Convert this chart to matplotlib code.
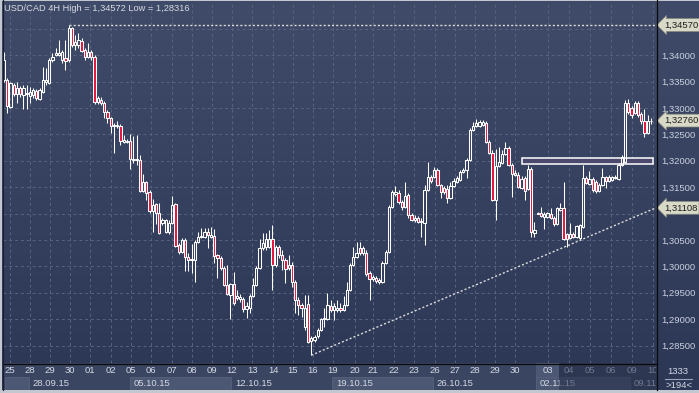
import matplotlib
matplotlib.use("Agg")
import matplotlib.pyplot as plt
import numpy as np
from matplotlib.patches import Rectangle
from matplotlib.lines import Line2D
from matplotlib.ticker import FixedLocator, FuncFormatter
from matplotlib.colors import LinearSegmentedColormap
import matplotlib.transforms as mtrans

plt.rcParams['font.family'] = ['Liberation Sans', 'DejaVu Sans']

# ---------------- data (USD/CAD 4H candles) ----------------
open_ = [
    1.3353, 1.3353, 1.3302, 1.3344, 1.3326, 1.3338, 1.3324, 1.3326, 1.3323, 1.3324,
    1.3332, 1.3317, 1.3330, 1.3349, 1.3347, 1.3391, 1.3400, 1.3400, 1.3391, 1.3395,
    1.3391, 1.3452, 1.3420, 1.3420, 1.3427, 1.3410, 1.3397, 1.3406, 1.3397, 1.3311,
    1.3315, 1.3309, 1.3292, 1.3281, 1.3266, 1.3266, 1.3266, 1.3235, 1.3235, 1.3237,
    1.3201, 1.3201, 1.3201, 1.3143, 1.3160, 1.3141, 1.3105, 1.3118, 1.3101, 1.3082,
    1.3065, 1.3065, 1.3082, 1.3118, 1.3040, 1.3027, 1.3050, 1.3018, 1.3012, 1.3012,
    1.3046, 1.3056, 1.3056, 1.3065, 1.3056, 1.3058, 1.3021, 1.3016, 1.2997, 1.2965,
    1.2946, 1.2966, 1.2940, 1.2938, 1.2938, 1.2919, 1.2922, 1.2944, 1.2965, 1.2997,
    1.3035, 1.3037, 1.3037, 1.3052, 1.3002, 1.3037, 1.3021, 1.3012, 1.2997, 1.3002,
    1.2970, 1.2936, 1.2926, 1.2885, 1.2928, 1.2858, 1.2860, 1.2868, 1.2879, 1.2900,
    1.2900, 1.2924, 1.2917, 1.2917, 1.2922, 1.2917, 1.2926, 1.2955, 1.3002, 1.3018,
    1.3035, 1.3025, 1.3025, 1.2987, 1.2976, 1.2978, 1.2970, 1.2970, 1.3006, 1.3027,
    1.3112, 1.3137, 1.3139, 1.3122, 1.3112, 1.3136, 1.3097, 1.3088, 1.3092, 1.3084,
    1.3082, 1.3145, 1.3169, 1.3169, 1.3182, 1.3154, 1.3149, 1.3147, 1.3130, 1.3152,
    1.3160, 1.3164, 1.3178, 1.3182, 1.3201, 1.3258, 1.3266, 1.3266, 1.3268, 1.3271,
    1.3235, 1.3214, 1.3126, 1.3190, 1.3195, 1.3212, 1.3224, 1.3192, 1.3173, 1.3173,
    1.3149, 1.3167, 1.3147, 1.3184, 1.3063, 1.3100, 1.3101, 1.3094, 1.3094, 1.3099,
    1.3092, 1.3080, 1.3107, 1.3110, 1.3061, 1.3054, 1.3061, 1.3056, 1.3054, 1.3075,
    1.3167, 1.3156, 1.3165, 1.3160, 1.3143, 1.3154, 1.3169, 1.3162, 1.3164, 1.3167,
    1.3165, 1.3192, 1.3197, 1.3309, 1.3300, 1.3290, 1.3309, 1.3288, 1.3275, 1.3252,
    1.3275]
high = [
    1.3406, 1.3357, 1.3349, 1.3347, 1.3349, 1.3342, 1.3344, 1.3344, 1.3340, 1.3338,
    1.3336, 1.3338, 1.3378, 1.3376, 1.3395, 1.3404, 1.3414, 1.3429, 1.3410, 1.3429,
    1.34572, 1.3454, 1.3438, 1.3442, 1.3433, 1.3414, 1.3423, 1.3410, 1.3400, 1.3323,
    1.3321, 1.3313, 1.3296, 1.3283, 1.3271, 1.3275, 1.3269, 1.3248, 1.3241, 1.3250,
    1.3247, 1.3248, 1.3210, 1.3174, 1.3162, 1.3145, 1.3128, 1.3120, 1.3120, 1.3092,
    1.3090, 1.3088, 1.3134, 1.3120, 1.3044, 1.3054, 1.3054, 1.3025, 1.3042, 1.3050,
    1.3065, 1.3073, 1.3073, 1.3073, 1.3075, 1.3071, 1.3023, 1.3020, 1.3001, 1.3002,
    1.2968, 1.2989, 1.2955, 1.2947, 1.2942, 1.2932, 1.2947, 1.2978, 1.3001, 1.3052,
    1.3063, 1.3063, 1.3069, 1.3078, 1.3040, 1.3040, 1.3031, 1.3016, 1.3021, 1.3008,
    1.2974, 1.2942, 1.2930, 1.2946, 1.2946, 1.2868, 1.2870, 1.2883, 1.2902, 1.2922,
    1.2949, 1.2936, 1.2930, 1.2936, 1.2930, 1.2944, 1.2970, 1.3006, 1.3037, 1.3046,
    1.3046, 1.3039, 1.3031, 1.2991, 1.2984, 1.2982, 1.2978, 1.3010, 1.3031, 1.3116,
    1.3145, 1.3152, 1.3145, 1.3126, 1.3160, 1.3139, 1.3101, 1.3097, 1.3096, 1.3092,
    1.3154, 1.3197, 1.3173, 1.3188, 1.3186, 1.3156, 1.3152, 1.3154, 1.3160, 1.3167,
    1.3171, 1.3182, 1.3186, 1.3205, 1.3262, 1.3273, 1.3279, 1.3277, 1.3277, 1.3275,
    1.3239, 1.3220, 1.3222, 1.3226, 1.3220, 1.3235, 1.3228, 1.3195, 1.3182, 1.3178,
    1.3171, 1.3171, 1.3192, 1.3188, 1.3084, 1.3103, 1.3112, 1.3103, 1.3103, 1.3110,
    1.3096, 1.3112, 1.3120, 1.3160, 1.3063, 1.3082, 1.3065, 1.3078, 1.3080, 1.3192,
    1.3171, 1.3180, 1.3169, 1.3164, 1.3158, 1.3186, 1.3171, 1.3173, 1.3171, 1.3173,
    1.3195, 1.3210, 1.3315, 1.3317, 1.3304, 1.3313, 1.3313, 1.3292, 1.3298, 1.3286,
    1.3281]
low = [
    1.3349, 1.3290, 1.3300, 1.3323, 1.3309, 1.3321, 1.3298, 1.3298, 1.3309, 1.3319,
    1.3315, 1.3315, 1.3328, 1.3344, 1.3345, 1.3387, 1.3399, 1.3399, 1.3385, 1.3372,
    1.3387, 1.3416, 1.3410, 1.3414, 1.3406, 1.3391, 1.3395, 1.3391, 1.3307, 1.3307,
    1.3306, 1.3281, 1.3271, 1.3252, 1.3214, 1.3262, 1.3230, 1.3233, 1.3233, 1.3184,
    1.3195, 1.3192, 1.3141, 1.3141, 1.3126, 1.3101, 1.3065, 1.3080, 1.3061, 1.3078,
    1.3063, 1.3061, 1.3080, 1.3037, 1.3023, 1.3025, 1.2991, 1.2991, 1.2987, 1.2970,
    1.3044, 1.3054, 1.3054, 1.3035, 1.3054, 1.3006, 1.2978, 1.2993, 1.2963, 1.2946,
    1.2900, 1.2926, 1.2936, 1.2932, 1.2913, 1.2902, 1.2911, 1.2942, 1.2963, 1.2995,
    1.3031, 1.3031, 1.3035, 1.2955, 1.2999, 1.3016, 1.2993, 1.2968, 1.2993, 1.2961,
    1.2911, 1.2907, 1.2904, 1.2879, 1.2854, 1.28316, 1.2856, 1.2864, 1.2877, 1.2885,
    1.2898, 1.2913, 1.2898, 1.2913, 1.2913, 1.2915, 1.2924, 1.2953, 1.3001, 1.3016,
    1.3021, 1.3021, 1.2982, 1.2936, 1.2972, 1.2968, 1.2966, 1.2968, 1.3004, 1.3025,
    1.3110, 1.3134, 1.3118, 1.3107, 1.3110, 1.3092, 1.3086, 1.3084, 1.3082, 1.3056,
    1.3040, 1.3143, 1.3158, 1.3167, 1.3152, 1.3130, 1.3137, 1.3120, 1.3128, 1.3150,
    1.3158, 1.3162, 1.3176, 1.3167, 1.3199, 1.3256, 1.3264, 1.3264, 1.3266, 1.3233,
    1.3212, 1.3124, 1.3088, 1.3188, 1.3193, 1.3210, 1.3190, 1.3132, 1.3171, 1.3149,
    1.3147, 1.3126, 1.3145, 1.3056, 1.3056, 1.3099, 1.3094, 1.3071, 1.3092, 1.3090,
    1.3076, 1.3078, 1.3105, 1.3050, 1.3037, 1.3052, 1.3054, 1.3054, 1.3050, 1.3073,
    1.3156, 1.3154, 1.3141, 1.3139, 1.3141, 1.3152, 1.3149, 1.3160, 1.3162, 1.3165,
    1.3164, 1.3190, 1.3195, 1.3288, 1.3281, 1.3288, 1.3283, 1.3269, 1.3245, 1.3250,
    1.3269]
close = [
    1.3391, 1.3304, 1.3347, 1.3326, 1.3338, 1.3326, 1.3338, 1.3328, 1.3330, 1.3334,
    1.3319, 1.3334, 1.3353, 1.3353, 1.3391, 1.3397, 1.3404, 1.3404, 1.3406, 1.3389,
    1.3452, 1.3420, 1.3425, 1.3429, 1.3408, 1.3397, 1.3406, 1.3397, 1.3311, 1.3319,
    1.3309, 1.3292, 1.3281, 1.3266, 1.3268, 1.3268, 1.3237, 1.3239, 1.3237, 1.3203,
    1.3203, 1.3203, 1.3143, 1.3160, 1.3139, 1.3105, 1.3116, 1.3101, 1.3063, 1.3088,
    1.3088, 1.3082, 1.3116, 1.3039, 1.3027, 1.3050, 1.3018, 1.3012, 1.3014, 1.3046,
    1.3056, 1.3058, 1.3065, 1.3059, 1.3059, 1.3020, 1.3016, 1.2997, 1.2965, 1.2947,
    1.2966, 1.2930, 1.2944, 1.2942, 1.2919, 1.2924, 1.2944, 1.2965, 1.2997, 1.3035,
    1.3044, 1.3052, 1.3052, 1.3002, 1.3037, 1.3021, 1.3012, 1.2995, 1.3002, 1.2970,
    1.2936, 1.2926, 1.2921, 1.2921, 1.2856, 1.2864, 1.2866, 1.2879, 1.2900, 1.2902,
    1.2926, 1.2917, 1.2924, 1.2922, 1.2917, 1.2926, 1.2955, 1.3002, 1.3018, 1.3025,
    1.3025, 1.3035, 1.2985, 1.2976, 1.2980, 1.2972, 1.2974, 1.3006, 1.3027, 1.3112,
    1.3141, 1.3141, 1.3122, 1.3112, 1.3134, 1.3097, 1.3088, 1.3092, 1.3084, 1.3086,
    1.3145, 1.3169, 1.3162, 1.3182, 1.3154, 1.3141, 1.3141, 1.3130, 1.3152, 1.3162,
    1.3167, 1.3178, 1.3182, 1.3201, 1.3258, 1.3266, 1.3271, 1.3273, 1.3273, 1.3235,
    1.3214, 1.3126, 1.3190, 1.3197, 1.3212, 1.3224, 1.3192, 1.3174, 1.3176, 1.3150,
    1.3165, 1.3143, 1.3184, 1.3065, 1.3069, 1.3101, 1.3096, 1.3099, 1.3101, 1.3092,
    1.3080, 1.3110, 1.3110, 1.3052, 1.3052, 1.3061, 1.3056, 1.3076, 1.3078, 1.3167,
    1.3158, 1.3165, 1.3145, 1.3143, 1.3154, 1.3169, 1.3162, 1.3169, 1.3169, 1.3169,
    1.3192, 1.3207, 1.3309, 1.3292, 1.3286, 1.3309, 1.3286, 1.3275, 1.3252, 1.3275,
    1.3276]

title = "USD/CAD 4H High = 1,34572 Low = 1,28316"
price_ticks = [1.285, 1.290, 1.295, 1.300, 1.305, 1.310, 1.315, 1.320,
               1.325, 1.330, 1.335, 1.340, 1.345]
hidden_tick_labels = [1.310, 1.345]   # covered by the price markers
day_labels = ['25', '28', '29', '30', '01', '02', '05', '06', '07', '08', '09',
              '12', '13', '14', '15', '16', '19', '20', '21', '22', '23',
              '26', '27', '28', '29', '30', '03', '04', '05', '06', '09', '10']
day_pos = [1.85, 8.0, 14.2, 20.4, 26.6, 33.1, 39.3, 45.4, 51.9, 58.1, 64.3,
           70.5, 76.7, 83.2, 89.3, 95.5, 101.7, 108.5, 114.1, 120.6, 126.7,
           133.2, 139.4, 145.6, 151.8, 158.0, 168.2, 174.7, 181.1, 187.6, 194.1, 200.6]
week_labels = ['', '28.09.15', '05.10.15', '12.10.15', '19.10.15', '26.10.15', '02.11.15', '09.11']
week_start = [0.3, 7.7, 39.0, 70.2, 101.4, 132.6, 164.5, 193.4]

high_value = 1.34570
current_value = 1.32760
trend_end_value = 1.31108
zone_low, zone_high = 1.3194, 1.3206
zone_start_bar = 160.1
bars_count_label = "1333"
visible_label = ">194<"

# ---------------- figure ----------------
W, H = 699, 393
fig = plt.figure(figsize=(W / 100, H / 100), dpi=100)
fig.patch.set_facecolor('#36425e')

bg = fig.add_axes([0, 0, 1, 1], zorder=-10)
bg.axis('off')
grad = np.linspace(0, 1, 256).reshape(-1, 1)
cmap = LinearSegmentedColormap.from_list('bg', ['#3f4b68', '#2c3756'])
bg.imshow(grad, aspect='auto', cmap=cmap, extent=[0, 1, 0, 1], origin='upper')
bg.set_xlim(0, 1)
bg.set_ylim(0, 1)

XMIN, XMAX = -0.3, 201.56
ax = fig.add_axes([3 / W, (H - 363) / H, 653 / W, 360 / H])
ax.set_facecolor('none')
ax.set_xlim(XMIN, XMAX)
ax.set_ylim(1.28169, 1.34987)
for s in ax.spines.values():
    s.set_visible(False)


def price_fmt(v, p):
    if any(abs(v - t) < 1e-9 for t in hidden_tick_labels):
        return ''
    return f"{v:.5f}".replace('.', ',')


ax.xaxis.set_major_locator(FixedLocator(day_pos))
ax.tick_params(axis='x', length=0, labelbottom=False)
ax.yaxis.tick_right()
ax.yaxis.set_major_locator(FixedLocator(price_ticks))
ax.yaxis.set_major_formatter(FuncFormatter(price_fmt))
ax.tick_params(axis='y', length=0, pad=4, labelsize=6.8, labelcolor='#c9d0dd')
ax.grid(True, color='#57637f', linestyle=(0, (3, 3)), linewidth=0.7)
ax.set_axisbelow(True)

o = np.array(open_)
h = np.array(high)
l = np.array(low)
c = np.array(close)
x = np.arange(len(c))
top = np.maximum(o, c)
bot = np.minimum(o, c)
up = c >= o

# zone rectangle
ax.add_patch(Rectangle((zone_start_bar, zone_low), XMAX - 1.0 - zone_start_bar, zone_high - zone_low,
                       facecolor='#4b496c', edgecolor='white', linewidth=1.1, zorder=2))

ax.vlines(x, top, h, color='white', linewidth=0.75, zorder=3)
ax.vlines(x, l, bot, color='white', linewidth=0.75, zorder=3)
face = ['none' if u else '#e3173e' for u in up]
ax.bar(x, top - bot, bottom=bot, width=0.7, color=face, edgecolor='white',
       linewidth=0.75, zorder=4)

# high level dotted line
i_hi = int(np.argmax(h))
ax.plot([i_hi, XMAX], [high_value, high_value], color='#dcdcdc',
        linestyle=(0, (1.5, 1.5)), linewidth=1.0, zorder=5)
# trend line from lowest low
i_lo = int(np.argmin(l))
ax.plot([i_lo, XMAX], [l[i_lo], trend_end_value], color='#dcdcdc',
        linestyle=(0, (1.5, 1.5)), linewidth=1.0, zorder=5)

# right-side price markers
trans = mtrans.blended_transform_factory(ax.transAxes, ax.transData)
for val in [high_value, current_value, trend_end_value]:
    ax.text(1.012, val, f"{val:.5f}".replace('.', ','), transform=trans,
            fontsize=6.8, color='#1e1e1e', va='center', ha='left', zorder=20,
            clip_on=False,
            bbox=dict(boxstyle='larrow,pad=0.2', fc='#d9d9c7', ec='#8c8c80', lw=0.5))

# title
fig.text(4 / W, 1 - 8.5 / H, title, fontsize=6.7, color='#d6dae3', va='center', ha='left')

# ---------------- bottom time axis ----------------
axb = fig.add_axes([3 / W, (H - 390) / H, 653 / W, 27 / H])
axb.set_xlim(XMIN, XMAX)
axb.set_ylim(0, 1)
axb.set_facecolor('#3a4561')
axb.set_xticks([])
axb.set_yticks([])
for s in axb.spines.values():
    s.set_visible(False)

ends = week_start[1:] + [XMAX]
for k, (ws, we) in enumerate(zip(week_start, ends)):
    if k % 2 == 0 and k < 7:
        axb.add_patch(Rectangle((ws, 0), we - ws, 0.5, facecolor='#4c5873',
                                edgecolor='#5a6680', linewidth=0.5, zorder=1))
    if week_labels[k]:
        axb.text(ws + 1.2, 0.25, week_labels[k], fontsize=6.8, color='#d3d8e3',
                 ha='left', va='center', zorder=3, clip_on=True)
axb.add_patch(Rectangle((week_start[6], 0.5), 7.1, 0.5, facecolor='#4c5873',
                        edgecolor='none', zorder=1))
for pos, lab in zip(day_pos, day_labels):
    axb.text(pos, 0.74, lab, fontsize=6.8, color='#d3d8e3', ha='center', va='center',
             zorder=3, clip_on=True)
axb.add_patch(Rectangle((171.6, 0), XMAX - 171.6, 1, facecolor='#232c47',
                        alpha=0.55, edgecolor='none', zorder=5))

# right-bottom counters
fig.text(678 / W, 1 - 371 / H, bars_count_label, fontsize=6.8, color='#d3d8e3',
         ha='center', va='center')
fig.add_artist(Line2D([665 / W, 692 / W], [1 - 378.5 / H] * 2, color='#9aa3b5', lw=0.8))
fig.text(679 / W, 1 - 385.5 / H, visible_label, fontsize=6.8, color='#d3d8e3',
         ha='center', va='center')

# separators and frame
fig.add_artist(Line2D([656.5 / W] * 2, [3 / H, 1], color='#0a0a0a', lw=0.9))
fig.add_artist(Line2D([3 / W, 656.5 / W], [1 - 363.5 / H] * 2, color='#0a0a0a', lw=0.9))
fig.add_artist(Line2D([2.5 / W] * 2, [3 / H, 1], color='#1a1f2c', lw=0.8))
fig.add_artist(Rectangle((0, 0), 1, 3 / H, transform=fig.transFigure,
                         facecolor='#c3c7cf', edgecolor='none'))
fig.add_artist(Rectangle((0, 0), 2 / W, 1, transform=fig.transFigure,
                         facecolor='#c3c7cf', edgecolor='none'))
fig.add_artist(Rectangle((0, 1 - 1 / H), 1, 1 / H, transform=fig.transFigure,
                         facecolor='#c3c7cf', edgecolor='none'))

fig.savefig('out.png', dpi=100, facecolor=fig.get_facecolor())
